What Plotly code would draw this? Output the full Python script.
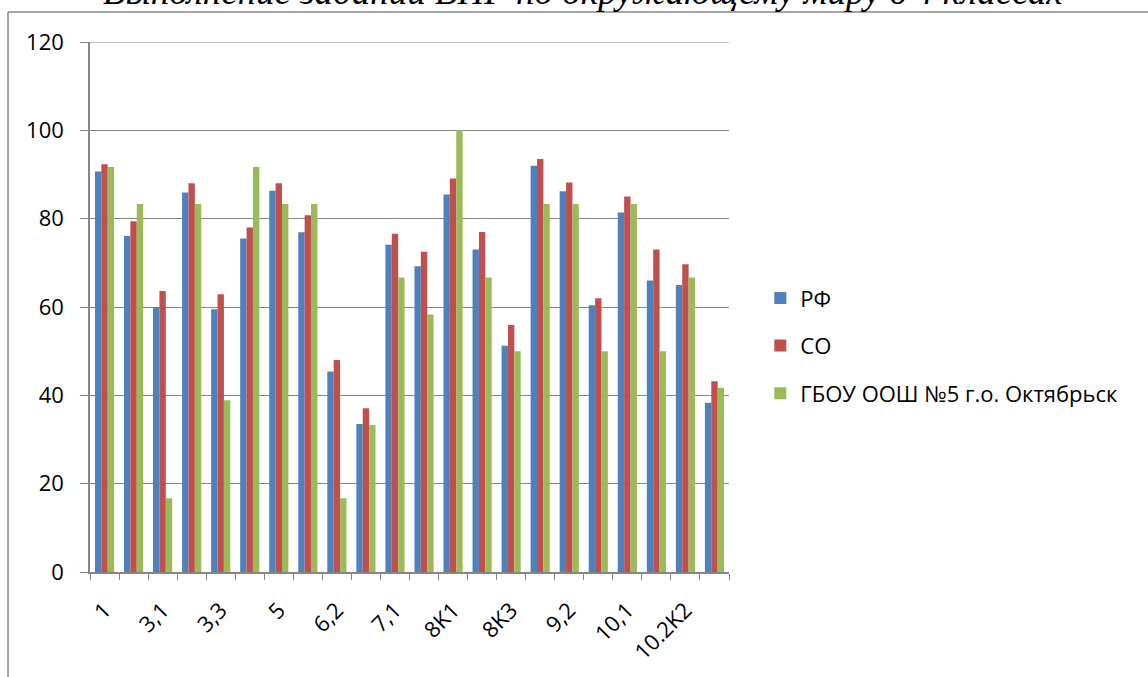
import plotly.graph_objects as go

categories = ["1", "2", "3,1", "3,2", "3,3", "4", "5", "6,1", "6,2", "6,3", "7,1",
              "7,2", "8K1", "8K2", "8K3", "9,1", "9,2", "9,3", "10,1", "10.2K1", "10.2K2", "10,3"]
shown_labels = ["1", "", "3,1", "", "3,3", "", "5", "", "6,2", "", "7,1",
                "", "8K1", "", "8K3", "", "9,2", "", "10,1", "", "10.2K2", ""]

rf = [90.7, 76.1, 60.0, 85.9, 59.5, 75.5, 86.3, 76.9, 45.4, 33.5, 74.1,
      69.2, 85.5, 73.0, 51.2, 92.0, 86.2, 60.4, 81.4, 66.0, 65.0, 38.3]
so = [92.3, 79.4, 63.6, 88.0, 62.9, 78.0, 88.0, 80.8, 48.0, 37.1, 76.6,
      72.5, 89.1, 77.0, 55.9, 93.5, 88.2, 62.0, 85.0, 73.0, 69.7, 43.2]
school = [91.7, 83.3, 16.7, 83.3, 38.9, 91.7, 83.3, 83.3, 16.7, 33.3, 66.7,
          58.3, 100.0, 66.7, 50.0, 83.3, 83.3, 50.0, 83.3, 50.0, 66.7, 41.7]

series_names = ["РФ", "СО", "ГБОУ ООШ №5 г.о. Октябрьск"]
colors = ["#4F81BD", "#C0504D", "#9BBB59"]
title_text = "Выполнение заданий ВПР по окружающему миру в 4 классах"
y_max = 120

fig = go.Figure()
for i, (name, vals, col) in enumerate(zip(series_names, [rf, so, school], colors)):
    fig.add_trace(go.Bar(x=categories, y=vals, name=name, marker_color=col,
                         marker_line_width=0, legendgroup=str(i)))

fig.update_layout(
    width=1148, height=677,
    margin=dict(l=90, r=419, t=42, b=103),
    paper_bgcolor="white", plot_bgcolor="white",
    barmode="group", bargap=0.34, bargroupgap=0,
    font=dict(family="Open Sans, DejaVu Sans, sans-serif", size=22, color="black"),
    showlegend=True,
    legend=dict(x=1.049, xanchor="left", y=0.427, yanchor="middle",
                tracegroupgap=16, font=dict(size=22), itemwidth=30,
                bgcolor="rgba(0,0,0,0)"),
    xaxis=dict(type="category", tickmode="array", tickvals=categories, ticktext=shown_labels,
               tickangle=-45, tickson="boundaries", ticks="outside", ticklen=6,
               tickcolor="#868686", showline=True, linecolor="#868686", linewidth=1.5,
               showgrid=False, tickfont=dict(size=22), ticklabelstandoff=15),
    yaxis=dict(range=[0, y_max], dtick=20, ticks="outside", ticklen=8, tickcolor="#868686",
               showline=True, linecolor="#868686", linewidth=1.5,
               showgrid=True, gridcolor="#868686", gridwidth=1.2, zeroline=False,
               tickfont=dict(size=22), ticklabelstandoff=12),
    annotations=[dict(text="<i>" + title_text + "</i>", xref="paper", yref="paper",
                      x=0.771, y=1.053, xanchor="center", yanchor="bottom", showarrow=False,
                      font=dict(family="Liberation Serif, Times New Roman, serif", size=37,
                                color="black"))],
    shapes=[
        dict(type="line", xref="paper", yref="y", x0=0, x1=1, y0=y_max, y1=y_max,
             line=dict(color="#868686", width=1.2), layer="below"),
        dict(type="line", xref="paper", yref="paper", x0=-0.1283, x1=1.66, y0=1.0564, y1=1.0564,
             line=dict(color="#868686", width=1.5)),
        dict(type="line", xref="paper", yref="paper", x0=-0.1283, x1=-0.1283, y0=1.0564, y1=-0.2,
             line=dict(color="#868686", width=1.5)),
    ],
)

fig.write_html("out.html", config={"displayModeBar": False},
               post_script="document.body.style.margin='0px';")
